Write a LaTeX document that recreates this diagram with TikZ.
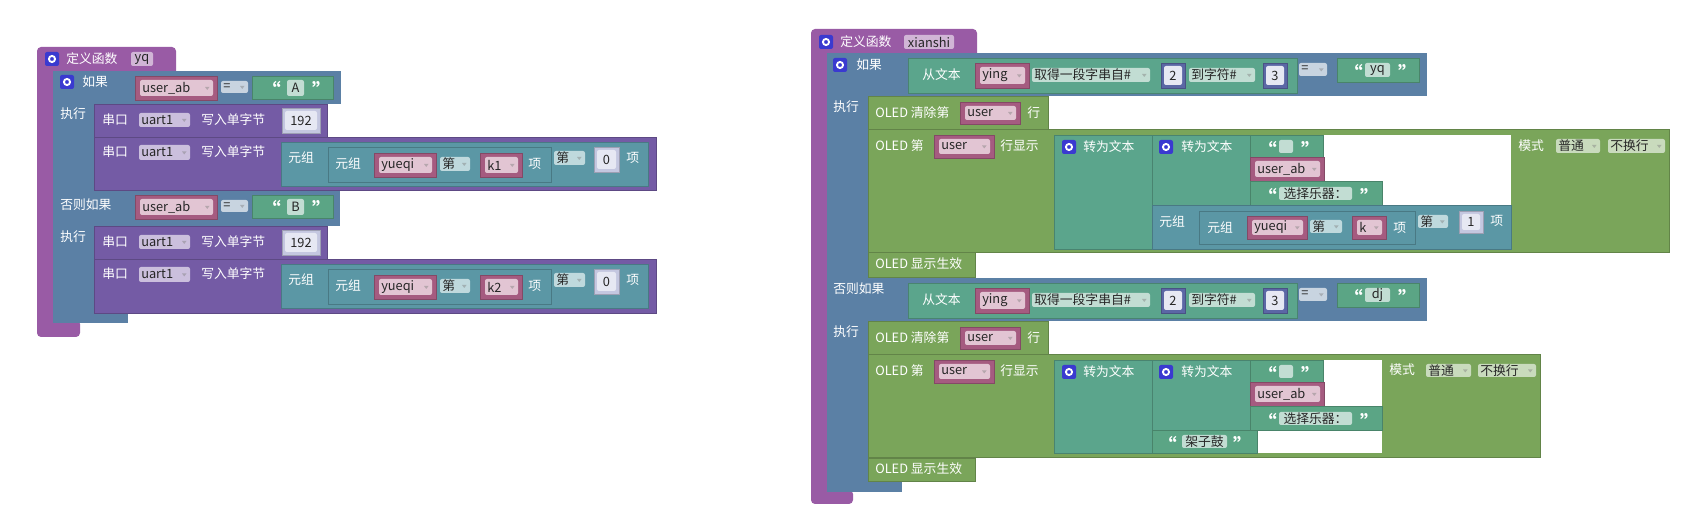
\documentclass[tikz,border=0pt]{standalone}
\usepackage{fontspec}
\setmainfont{Noto Sans CJK SC}
\definecolor{fpur}{HTML}{995BA5}
\definecolor{ifb}{HTML}{5B80A5}
\definecolor{ser}{HTML}{745BA5}
\definecolor{tup}{HTML}{5B97A5}
\definecolor{txg}{HTML}{5BA585}
\definecolor{cvt}{HTML}{5BA58C}
\definecolor{vr}{HTML}{A55B80}
\definecolor{num}{HTML}{5B67A5}
\definecolor{oled}{HTML}{7AA55A}
\definecolor{varl}{HTML}{E2C5D3}
\definecolor{serl}{HTML}{CBBFDD}
\definecolor{ifl}{HTML}{C8D4E0}
\definecolor{tupl}{HTML}{BFD9DD}
\definecolor{cvtl}{HTML}{C2DDD3}
\definecolor{oledl}{HTML}{C9DBBD}
\definecolor{numl}{HTML}{C4C7E0}
\definecolor{numc}{HTML}{E6E8F3}
\definecolor{gearb}{HTML}{3A3AD0}
\newcommand\fs{\fontsize{9.6}{9.6}\selectfont}
\tikzset{wt/.style={text=white,font=\fs,inner sep=0,anchor=west},
 ctc/.style={text=black!85,font=\fs,inner sep=0},
 ctw/.style={text=black!85,font=\fs,inner sep=0,anchor=west},
 qt/.style={text=white,font=\fontsize{14}{14}\selectfont\bfseries,inner sep=0,anchor=west}}
\newcommand\bx[5]{\fill[#5] (#1,#2) rectangle (#3,#4);}
\newcommand\bb[5]{\filldraw[fill=#5,draw=#5!80!black,line width=0.4pt] (#1,#2) rectangle (#3,#4);}
\newcommand\tw[3]{\node[wt] at (#1,#2) {#3};}
\newcommand\tq[3]{\node[qt] at (#1,#2+3) {#3};}
\newcommand\chp[6]{\fill[#5,rounded corners=1.5pt] (#1,#2) rectangle (#3,#4); \node[ctc] at ({(#1+#3)/2},{(#2+#4)/2}) {#6};}
\newcommand\dch[6]{\fill[#5,rounded corners=1.5pt] (#1,#2) rectangle (#3,#4); \node[ctw] at ({#1+2},{(#2+#4)/2}) {#6}; \fill[#5!55!gray] ({#3-8},{(#2+#4)/2-1}) -- ++(4.5,0) -- ++(-2.25,3) -- cycle;}
\newcommand\vb[5]{\bb{#1}{#2}{#3}{#4}{vr} \dch{#1+5}{#2+4}{#3-4}{#4-4}{varl}{#5}}
\newcommand\nb[6]{\bb{#1}{#2}{#3}{#4}{#5} \chp{#1+3}{#2+3}{#3-3}{#4-3}{numc}{#6}}
\newcommand\gr[2]{\fill[gearb,rounded corners=1.5pt] (#1,#2) rectangle ++(14,14); \draw[white,line width=1.4pt] (#1+7,#2+7) circle[radius=2.3pt];}
\begin{document}
\begin{tikzpicture}[x=0.75pt,y=-0.75pt]
\useasboundingbox (0,0) rectangle (1697,530);
% ================= LEFT =================
\fill[fpur,rounded corners=3pt] (37,47) rectangle (176,75);
\fill[fpur] (37,65) rectangle (53,330);
\fill[fpur,rounded corners=3pt] (37,320) rectangle (80,337);
\gr{45}{52} \tw{66}{59}{定义函数} \chp{131}{52}{153}{66}{fpur!45!white}{yq}
\bx{53}{71}{341}{104}{ifb} \bx{53}{71}{96}{323}{ifb} \bx{53}{313}{128}{323}{ifb} \bx{53}{190}{340}{226}{ifb}
\gr{60}{75} \tw{82}{82}{如果}
\vb{135}{76}{217}{100}{user\_ab} \dch{221}{81}{248}{93}{ifl}{=}
\bb{252}{76}{333}{99}{txg} \tq{262}{86}{“} \chp{287}{80}{304}{96}{cvtl}{A} \tq{312}{86}{”}
\tw{60}{114}{执行}
% serial 1
\bb{94}{104}{327}{137}{ser} \tw{102}{120}{串口} \dch{139}{113}{190}{127}{serl}{uart1} \tw{201}{120}{写入单字节}
\nb{282}{108}{320}{133}{numl}{192}
% serial 2
\bb{94}{137}{656}{190}{ser} \tw{102}{152}{串口} \dch{139}{145}{190}{160}{serl}{uart1} \tw{201}{152}{写入单字节}
\bb{281}{142}{648}{186}{tup} \tw{288}{158}{元组} \bb{328}{147}{551}{182}{tup}
\tw{335}{164}{元组} \vb{374}{153}{436}{177}{yueqi} \dch{440}{157}{470}{171}{tupl}{第} \vb{480}{153}{522}{177}{k1} \tw{528}{164}{项}
\dch{554}{151}{585}{165}{tupl}{第} \nb{594}{147}{619}{172}{numl}{0} \tw{626}{158}{项}
% else if
\tw{60}{205}{否则如果}
\vb{135}{195}{217}{219}{user\_ab} \dch{221}{200}{248}{212}{ifl}{=}
\bb{252}{195}{333}{218}{txg} \tq{262}{205}{“} \chp{287}{199}{304}{215}{cvtl}{B} \tq{312}{205}{”}
\tw{60}{237}{执行}
\bb{94}{226}{327}{259}{ser} \tw{102}{242}{串口} \dch{139}{235}{190}{249}{serl}{uart1} \tw{201}{242}{写入单字节}
\nb{282}{230}{320}{255}{numl}{192}
\bb{94}{259}{656}{313}{ser} \tw{102}{274}{串口} \dch{139}{267}{190}{282}{serl}{uart1} \tw{201}{274}{写入单字节}
\bb{281}{264}{648}{308}{tup} \tw{288}{280}{元组} \bb{328}{269}{551}{304}{tup}
\tw{335}{286}{元组} \vb{374}{275}{436}{299}{yueqi} \dch{440}{279}{470}{293}{tupl}{第} \vb{480}{275}{522}{299}{k2} \tw{528}{286}{项}
\dch{554}{273}{585}{287}{tupl}{第} \nb{594}{269}{619}{294}{numl}{0} \tw{626}{280}{项}
% ================= RIGHT =================
\fill[fpur,rounded corners=3pt] (811,29) rectangle (977,57);
\fill[fpur] (811,45) rectangle (827,495);
\fill[fpur,rounded corners=3pt] (811,490) rectangle (853,504);
\gr{819}{35} \tw{840}{42}{定义函数} \chp{904}{35}{954}{49}{fpur!45!white}{xianshi}
\bx{827}{53}{868}{482}{ifb} \bx{827}{478}{902}{492}{ifb}
\foreach \dy/\val in {0/yq,225/dj}{
\begin{scope}[shift={(0,\dy)}]
\bx{868}{53}{1427}{96}{ifb}
\bb{908}{58}{1297}{93}{cvt} \tw{922}{75}{从文本} \vb{975}{63}{1029}{88}{ying}
\dch{1032}{68}{1150}{82}{cvtl}{取得一段字串自\#} \nb{1161}{63}{1185}{88}{num}{2}
\dch{1189}{68}{1255}{82}{cvtl}{到字符\#} \nb{1263}{63}{1287}{88}{num}{3}
\dch{1299}{63}{1327}{76}{ifl}{=}
\bb{1337}{58}{1419}{82}{txg} \tq{1344}{69}{“} \chp{1365}{63}{1390}{77}{cvtl}{\val} \tq{1398}{69}{”}
\bb{868}{96}{1048}{129}{oled} \tw{875}{113}{OLED 清除第} \vb{960}{102}{1020}{124}{user} \tw{1027}{113}{行}
\end{scope}}
\gr{833}{58} \tw{856}{65}{如果}
\tw{833}{107}{执行}
\tw{833}{289}{否则如果}
\tw{833}{332}{执行}
% display block 1
\bb{868}{129}{1669}{252}{oled} \fill[white] (1054,135) rectangle (1511,205);
\tw{875}{146}{OLED 第} \vb{934}{135}{994}{158}{user} \tw{1000}{146}{行显示}
\bb{1054}{135}{1152}{249}{cvt} \gr{1062}{140} \tw{1083}{147}{转为文本}
\bb{1152}{135}{1250}{205}{cvt} \gr{1159}{140} \tw{1181}{147}{转为文本}
\bb{1250}{135}{1323}{157}{txg} \tq{1258}{146}{“} \chp{1279}{140}{1293}{153}{cvtl}{} \tq{1301}{146}{”}
\vb{1250}{157}{1324}{181}{user\_ab}
\bb{1250}{181}{1382}{205}{txg} \tq{1258}{193}{“} \chp{1279}{187}{1352}{200}{cvtl}{选择乐器：} \tq{1360}{193}{”}
\bb{1152}{205}{1511}{249}{tup} \tw{1159}{222}{元组} \bb{1199}{211}{1415}{244}{tup}
\tw{1207}{228}{元组} \vb{1247}{216}{1307}{239}{yueqi} \dch{1310}{220}{1342}{233}{tupl}{第} \vb{1352}{216}{1386}{239}{k} \tw{1393}{228}{项}
\dch{1418}{215}{1448}{228}{tupl}{第} \nb{1459}{211}{1483}{233}{numl}{1} \tw{1490}{221}{项}
\tw{1518}{146}{模式} \dch{1556}{139}{1600}{153}{oledl}{普通} \dch{1608}{139}{1665}{153}{oledl}{不换行}
\bb{868}{252}{975}{277}{oled} \tw{875}{264}{OLED 显示生效}
% display block 2
\bb{868}{354}{1540}{457}{oled} \fill[white] (1054,360) rectangle (1382,453);
\tw{875}{371}{OLED 第} \vb{934}{360}{994}{383}{user} \tw{1000}{371}{行显示}
\bb{1054}{360}{1152}{453}{cvt} \gr{1062}{365} \tw{1083}{372}{转为文本}
\bb{1152}{360}{1250}{430}{cvt} \gr{1159}{365} \tw{1181}{372}{转为文本}
\bb{1250}{360}{1323}{382}{txg} \tq{1258}{371}{“} \chp{1279}{365}{1293}{378}{cvtl}{} \tq{1301}{371}{”}
\vb{1250}{382}{1324}{406}{user\_ab}
\bb{1250}{406}{1382}{430}{txg} \tq{1258}{418}{“} \chp{1279}{412}{1352}{425}{cvtl}{选择乐器：} \tq{1360}{418}{”}
\bb{1152}{430}{1257}{453}{txg} \tq{1158}{441}{“} \chp{1182}{435}{1227}{448}{cvtl}{架子鼓} \tq{1233}{441}{”}
\tw{1389}{370}{模式} \dch{1426}{364}{1471}{377}{oledl}{普通} \dch{1478}{364}{1536}{377}{oledl}{不换行}
\bb{868}{458}{975}{481}{oled} \tw{875}{469}{OLED 显示生效}
\end{tikzpicture}
\end{document}
